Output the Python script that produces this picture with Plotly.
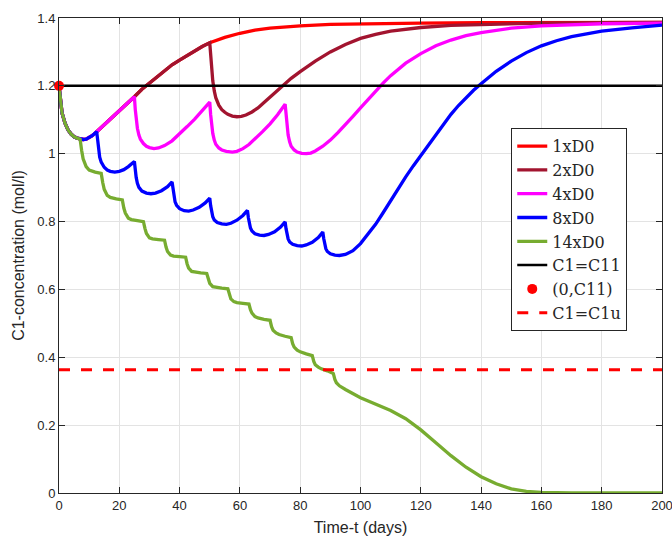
import plotly.graph_objects as go

# ---------------- data ----------------
C11 = 1.2
C1u = 0.363

# common early part shared by all dosing schemes (t in days, C1 in mol/l)
t_common = [0, 0.5, 1, 2, 3, 4, 5, 6, 7]
c_common = [1.2, 1.15, 1.12, 1.09, 1.07, 1.058, 1.05, 1.046, 1.043]

t_1x = t_common + [8, 9, 10, 11, 12.5, 15, 17.5, 20, 22.5, 25, 27.5, 30, 32.5, 35, 37.5,
                   40, 42.5, 45, 47.5, 50, 55, 60, 65, 70, 75, 80, 90, 100, 120, 140, 160, 200]
c_1x = c_common + [1.042, 1.043, 1.047, 1.053, 1.065, 1.085, 1.108, 1.128, 1.148, 1.168, 1.19,
                   1.208, 1.228, 1.245, 1.262, 1.276, 1.29, 1.303, 1.316, 1.327, 1.343, 1.355,
                   1.364, 1.37, 1.374, 1.377, 1.381, 1.383, 1.385, 1.386, 1.387, 1.387]

t_2x = t_common + [8, 9, 10, 11, 12.5, 15, 17.5, 20, 22.5, 25, 27.5, 30, 32.5, 35, 37.5,
                   40, 42.5, 45, 47.5, 50,
                   50.3, 50.6, 51, 51.5, 52, 53, 54, 55, 56, 57.5, 59, 60.5, 62, 64, 66, 68,
                   70, 72, 74, 77, 80, 85, 90, 95, 100, 105, 110, 120, 130, 140, 160, 180, 200]
c_2x = c_common + [1.042, 1.043, 1.047, 1.053, 1.065, 1.085, 1.108, 1.128, 1.148, 1.168, 1.19,
                   1.208, 1.228, 1.245, 1.262, 1.276, 1.29, 1.303, 1.316, 1.327,
                   1.29, 1.25, 1.215, 1.185, 1.165, 1.143, 1.13, 1.122, 1.116, 1.111, 1.109,
                   1.11, 1.114, 1.123, 1.135, 1.151, 1.167, 1.184, 1.2, 1.222, 1.242, 1.273,
                   1.3, 1.322, 1.34, 1.352, 1.361, 1.372, 1.378, 1.381, 1.385, 1.386, 1.387]

t_4x = t_common + [8, 9, 10, 11, 12.5, 15, 17.5, 20, 22.5, 25,
                   25.3, 25.6, 26, 26.5, 27, 28, 29, 30, 31.5, 33, 35, 37.5, 40, 42.5, 45, 47.5, 50,
                   50.3, 50.6, 51, 51.5, 52, 53, 54, 55.5, 57.5, 59, 61, 63, 65, 67.5, 70, 72.5, 75,
                   75.3, 75.6, 76, 76.5, 77, 78, 79, 80.5, 82, 83.5, 85, 87.5, 90, 92.5, 95, 97.5,
                   100, 102.5, 105, 107.5, 110, 115, 120, 125, 130, 135, 140, 150, 160, 170, 180, 200]
c_4x = c_common + [1.042, 1.043, 1.047, 1.053, 1.065, 1.085, 1.108, 1.128, 1.148, 1.168,
                   1.13, 1.1, 1.075, 1.055, 1.043, 1.03, 1.022, 1.018, 1.015, 1.017, 1.024,
                   1.038, 1.058, 1.08, 1.102, 1.126, 1.152,
                   1.115, 1.085, 1.06, 1.04, 1.028, 1.017, 1.011, 1.007, 1.005, 1.007, 1.015,
                   1.027, 1.043, 1.065, 1.088, 1.115, 1.146,
                   1.11, 1.08, 1.055, 1.035, 1.022, 1.011, 1.005, 1.001, 1.0, 1.002, 1.008,
                   1.022, 1.04, 1.062, 1.085, 1.11, 1.135, 1.16, 1.185, 1.208, 1.23, 1.267,
                   1.295, 1.318, 1.335, 1.348, 1.357, 1.37, 1.377, 1.381, 1.383, 1.385]

t_8x = t_common + [8, 9, 10, 11, 12.5,
                   12.8, 13.1, 13.5, 14, 15, 16, 17, 18.5, 20, 21.5, 23, 25,
                   25.3, 25.6, 26, 26.5, 27.5, 29, 30.5, 32, 34, 36, 37.5,
                   37.8, 38.1, 38.5, 39, 40, 41.5, 43, 44.5, 46.5, 48.5, 50,
                   50.3, 50.6, 51, 51.5, 52.5, 54, 55.5, 57, 59, 61, 62.5,
                   62.8, 63.1, 63.5, 64, 65, 66.5, 68, 69.5, 71.5, 73.5, 75,
                   75.3, 75.6, 76, 76.5, 77.5, 79, 80.5, 82, 84, 86, 87.5,
                   87.8, 88.1, 88.5, 89, 90, 91.5, 93, 95, 97.5, 100, 102.5, 105, 107.5, 110,
                   112.5, 115, 117.5, 120, 122.5, 125, 127.5, 130, 132.5, 135, 137.5, 140,
                   145, 150, 155, 160, 165, 170, 180, 190, 200]
c_8x = c_common + [1.042, 1.043, 1.047, 1.053, 1.065,
                   1.035, 1.01, 0.99, 0.975, 0.96, 0.952, 0.948, 0.946, 0.948, 0.953, 0.962, 0.977,
                   0.95, 0.93, 0.913, 0.901, 0.89, 0.884, 0.882, 0.884, 0.891, 0.903, 0.917,
                   0.893, 0.873, 0.858, 0.848, 0.838, 0.832, 0.831, 0.834, 0.842, 0.855, 0.869,
                   0.847, 0.828, 0.814, 0.805, 0.797, 0.793, 0.792, 0.795, 0.804, 0.818, 0.833,
                   0.812, 0.795, 0.781, 0.772, 0.764, 0.76, 0.759, 0.762, 0.77, 0.784, 0.799,
                   0.779, 0.762, 0.749, 0.74, 0.733, 0.729, 0.728, 0.731, 0.739, 0.753, 0.769,
                   0.75, 0.733, 0.72, 0.712, 0.705, 0.701, 0.7, 0.703, 0.714, 0.735, 0.762,
                   0.792, 0.826, 0.862, 0.898, 0.932, 0.964, 0.995, 1.027, 1.058, 1.088, 1.116,
                   1.142, 1.165, 1.187, 1.206, 1.243, 1.273, 1.298, 1.318, 1.333, 1.345, 1.361,
                   1.371, 1.379]

t_14x = t_common + [7.5, 8, 9, 10, 12, 14,
                    14.5, 15, 16, 17, 19, 21,
                    21.5, 22, 23, 24, 26, 28,
                    28.5, 29, 30, 31, 33, 35,
                    35.5, 36, 37, 38, 40, 42,
                    42.5, 43, 44, 45, 47, 49,
                    49.5, 50, 51, 52, 54, 56,
                    56.5, 57, 58, 59, 61, 63,
                    63.5, 64, 65, 66, 68, 70,
                    70.5, 71, 72, 73, 75, 77,
                    77.5, 78, 79, 80, 82, 84,
                    84.5, 85, 86, 87, 89, 91,
                    91.5, 92, 93, 95, 100, 105, 110, 115, 120, 125, 130, 135, 140, 145,
                    150, 155, 160, 170, 200]
c_14x = c_common + [1.01, 0.985, 0.962, 0.952, 0.946, 0.942,
                    0.915, 0.895, 0.877, 0.871, 0.867, 0.864,
                    0.84, 0.825, 0.81, 0.806, 0.803, 0.8,
                    0.78, 0.765, 0.752, 0.749, 0.747, 0.745,
                    0.725, 0.712, 0.701, 0.698, 0.697, 0.695,
                    0.675, 0.663, 0.653, 0.651, 0.649, 0.647,
                    0.63, 0.618, 0.608, 0.606, 0.604, 0.602,
                    0.583, 0.572, 0.564, 0.561, 0.559, 0.557,
                    0.54, 0.53, 0.52, 0.516, 0.512, 0.509,
                    0.49, 0.48, 0.472, 0.467, 0.462, 0.458,
                    0.44, 0.43, 0.421, 0.416, 0.41, 0.405,
                    0.388, 0.378, 0.371, 0.366, 0.36, 0.352,
                    0.335, 0.325, 0.316, 0.305, 0.281, 0.262, 0.243, 0.219, 0.186, 0.148,
                    0.11, 0.076, 0.048, 0.027, 0.012, 0.005, 0.002, 0.0, 0.0]

series_names = ["1xD0", "2xD0", "4xD0", "8xD0", "14xD0"]
series_colors = ["#FF0000", "#A2142F", "#FF00FF", "#0000FF", "#77AC30"]
series_t = [t_1x, t_2x, t_4x, t_8x, t_14x]
series_c = [c_1x, c_2x, c_4x, c_8x, c_14x]

x_range = [0, 200]
y_range = [0, 1.4]
x_ticks = [0, 20, 40, 60, 80, 100, 120, 140, 160, 180, 200]
y_ticks = [0, 0.2, 0.4, 0.6, 0.8, 1.0, 1.2, 1.4]
y_ticklabels = ["0", "0.2", "0.4", "0.6", "0.8", "1", "1.2", "1.4"]

# ---------------- figure ----------------
fig = go.Figure()
for name, col, tt, cc in zip(series_names, series_colors, series_t, series_c):
    fig.add_trace(go.Scatter(x=tt, y=cc, mode="lines", name=name,
                             line=dict(color=col, width=3.3), cliponaxis=False))

fig.add_trace(go.Scatter(x=x_range, y=[C11, C11], mode="lines", name="C1=C11",
                         line=dict(color="black", width=2.5)))
fig.add_trace(go.Scatter(x=[0], y=[C11], mode="markers", name="(0,C11)",
                         marker=dict(color="#FF0000", size=10), cliponaxis=False))
fig.add_trace(go.Scatter(x=x_range, y=[C1u, C1u], mode="lines", name="C1=C1u",
                         line=dict(color="#FF0000", width=3, dash="11px,11px")))

axis_common = dict(
    showline=True, linecolor="#262626", linewidth=1, mirror="ticks",
    ticks="inside", ticklen=6, tickcolor="#262626", tickwidth=1,
    showgrid=True, gridcolor="#E3E3E3", gridwidth=1, zeroline=False,
    ticklabeloverflow="allow", automargin=False,
    tickfont=dict(family="Liberation Sans, Arial", size=13, color="#262626"),
)

fig.update_layout(
    width=672, height=541,
    margin=dict(l=59, r=10, t=18, b=48),
    plot_bgcolor="white", paper_bgcolor="white",
    xaxis=dict(range=x_range, tickvals=x_ticks, **axis_common,
               title=dict(text="Time-t (days)", standoff=10,
                          font=dict(family="Liberation Sans, Arial", size=16, color="#262626"))),
    yaxis=dict(range=y_range, tickvals=y_ticks, ticktext=y_ticklabels, **axis_common,
               title=dict(text="C1-concentration (mol/l)", standoff=8,
                          font=dict(family="Liberation Sans, Arial", size=16, color="#262626"))),
    showlegend=True,
    legend=dict(x=0.75, y=0.768, xanchor="left", yanchor="top",
                bgcolor="white", bordercolor="#262626", borderwidth=1,
                font=dict(family="DejaVu Serif, Liberation Serif, serif", size=16, color="#262626"),
                itemwidth=30),
)

fig.write_html("out.html")
